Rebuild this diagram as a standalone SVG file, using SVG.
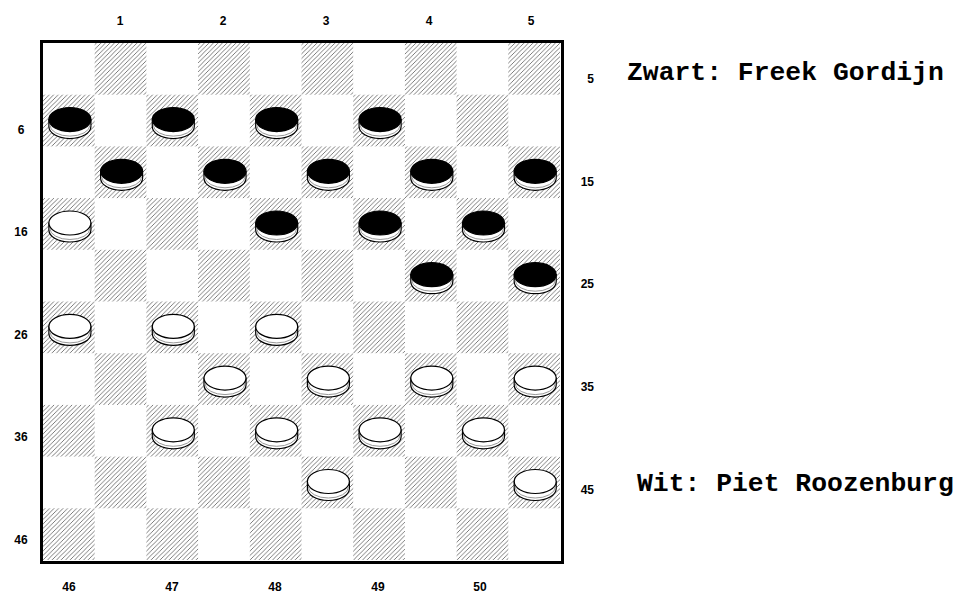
<svg xmlns="http://www.w3.org/2000/svg" width="959" height="594" viewBox="0 0 959 594">
<style>
.lbl{font-family:"Liberation Sans",Arial,sans-serif;font-weight:bold;font-size:12px;fill:#000;text-anchor:middle}
.lblr{font-family:"Liberation Sans",Arial,sans-serif;font-weight:bold;font-size:12px;fill:#000;text-anchor:end}
.name{font-family:"Liberation Mono","Courier New",monospace;font-weight:bold;font-size:26.4px;fill:#000}
.dark{fill:url(#hatch)}
.side{fill:#fff;stroke:#000;stroke-width:1.2}
.shade{fill:none;stroke:#999;stroke-width:1}
.topb{fill:#000;stroke:#000;stroke-width:1.2}
.topw{fill:#fff;stroke:#000;stroke-width:1.2}
</style>
<defs>
<pattern id="hatch" patternUnits="userSpaceOnUse" width="4.5" height="4.5">
<rect width="4.5" height="4.5" fill="#fff"/>
<path d="M-1,1 L1,-1 M0,4.5 L4.5,0 M3.5,5.5 L5.5,3.5" stroke="#6e6e6e" stroke-width="0.9"/>
</pattern>
<g id="pb">
<path class="side" d="M-21,-5 L-21,2 A21,12 0 0 0 21,2 L21,-5 Z"/>
<path class="shade" d="M-20,0.5 A20,11 0 0 0 20,0.5"/>
<ellipse class="topb" cx="0" cy="-5" rx="21" ry="12"/>
</g>
<g id="pw">
<path class="side" d="M-21,-5 L-21,2 A21,12 0 0 0 21,2 L21,-5 Z"/>
<path class="shade" d="M-20,0.5 A20,11 0 0 0 20,0.5"/>
<ellipse class="topw" cx="0" cy="-5" rx="21" ry="12"/>
</g>
</defs>
<rect width="959" height="594" fill="#fff"/>
<g id="board">
<rect x="43" y="43" width="518" height="518" fill="#fff"/>
<g id="squares">
<rect class="dark" x="94.7" y="43" width="51.7" height="51.7"/><rect class="dark" x="198.1" y="43" width="51.7" height="51.7"/><rect class="dark" x="301.5" y="43" width="51.7" height="51.7"/><rect class="dark" x="404.9" y="43" width="51.7" height="51.7"/><rect class="dark" x="508.3" y="43" width="51.7" height="51.7"/>
<rect class="dark" x="43" y="94.7" width="51.7" height="51.7"/><rect class="dark" x="146.4" y="94.7" width="51.7" height="51.7"/><rect class="dark" x="249.8" y="94.7" width="51.7" height="51.7"/><rect class="dark" x="353.2" y="94.7" width="51.7" height="51.7"/><rect class="dark" x="456.6" y="94.7" width="51.7" height="51.7"/>
<rect class="dark" x="94.7" y="146.4" width="51.7" height="51.7"/><rect class="dark" x="198.1" y="146.4" width="51.7" height="51.7"/><rect class="dark" x="301.5" y="146.4" width="51.7" height="51.7"/><rect class="dark" x="404.9" y="146.4" width="51.7" height="51.7"/><rect class="dark" x="508.3" y="146.4" width="51.7" height="51.7"/>
<rect class="dark" x="43" y="198.1" width="51.7" height="51.7"/><rect class="dark" x="146.4" y="198.1" width="51.7" height="51.7"/><rect class="dark" x="249.8" y="198.1" width="51.7" height="51.7"/><rect class="dark" x="353.2" y="198.1" width="51.7" height="51.7"/><rect class="dark" x="456.6" y="198.1" width="51.7" height="51.7"/>
<rect class="dark" x="94.7" y="249.8" width="51.7" height="51.7"/><rect class="dark" x="198.1" y="249.8" width="51.7" height="51.7"/><rect class="dark" x="301.5" y="249.8" width="51.7" height="51.7"/><rect class="dark" x="404.9" y="249.8" width="51.7" height="51.7"/><rect class="dark" x="508.3" y="249.8" width="51.7" height="51.7"/>
<rect class="dark" x="43" y="301.5" width="51.7" height="51.7"/><rect class="dark" x="146.4" y="301.5" width="51.7" height="51.7"/><rect class="dark" x="249.8" y="301.5" width="51.7" height="51.7"/><rect class="dark" x="353.2" y="301.5" width="51.7" height="51.7"/><rect class="dark" x="456.6" y="301.5" width="51.7" height="51.7"/>
<rect class="dark" x="94.7" y="353.2" width="51.7" height="51.7"/><rect class="dark" x="198.1" y="353.2" width="51.7" height="51.7"/><rect class="dark" x="301.5" y="353.2" width="51.7" height="51.7"/><rect class="dark" x="404.9" y="353.2" width="51.7" height="51.7"/><rect class="dark" x="508.3" y="353.2" width="51.7" height="51.7"/>
<rect class="dark" x="43" y="404.9" width="51.7" height="51.7"/><rect class="dark" x="146.4" y="404.9" width="51.7" height="51.7"/><rect class="dark" x="249.8" y="404.9" width="51.7" height="51.7"/><rect class="dark" x="353.2" y="404.9" width="51.7" height="51.7"/><rect class="dark" x="456.6" y="404.9" width="51.7" height="51.7"/>
<rect class="dark" x="94.7" y="456.6" width="51.7" height="51.7"/><rect class="dark" x="198.1" y="456.6" width="51.7" height="51.7"/><rect class="dark" x="301.5" y="456.6" width="51.7" height="51.7"/><rect class="dark" x="404.9" y="456.6" width="51.7" height="51.7"/><rect class="dark" x="508.3" y="456.6" width="51.7" height="51.7"/>
<rect class="dark" x="43" y="508.3" width="51.7" height="51.7"/><rect class="dark" x="146.4" y="508.3" width="51.7" height="51.7"/><rect class="dark" x="249.8" y="508.3" width="51.7" height="51.7"/><rect class="dark" x="353.2" y="508.3" width="51.7" height="51.7"/><rect class="dark" x="456.6" y="508.3" width="51.7" height="51.7"/>
</g>
<rect x="41.5" y="41.5" width="521" height="521" fill="none" stroke="#000" stroke-width="3"/>
</g>
<g id="black-pieces">
<use href="#pb" x="69.9" y="124.6"/><use href="#pb" x="173.3" y="124.6"/><use href="#pb" x="276.7" y="124.6"/><use href="#pb" x="380.1" y="124.6"/>
<use href="#pb" x="121.6" y="176.3"/><use href="#pb" x="225" y="176.3"/><use href="#pb" x="328.4" y="176.3"/><use href="#pb" x="431.8" y="176.3"/><use href="#pb" x="535.2" y="176.3"/>
<use href="#pb" x="276.7" y="228"/><use href="#pb" x="380.1" y="228"/><use href="#pb" x="483.5" y="228"/>
<use href="#pb" x="431.8" y="279.7"/><use href="#pb" x="535.2" y="279.7"/>
</g>
<g id="white-pieces">
<use href="#pw" x="69.9" y="228"/>
<use href="#pw" x="69.9" y="331.4"/><use href="#pw" x="173.3" y="331.4"/><use href="#pw" x="276.7" y="331.4"/>
<use href="#pw" x="225" y="383.1"/><use href="#pw" x="328.4" y="383.1"/><use href="#pw" x="431.8" y="383.1"/><use href="#pw" x="535.2" y="383.1"/>
<use href="#pw" x="173.3" y="434.8"/><use href="#pw" x="276.7" y="434.8"/><use href="#pw" x="380.1" y="434.8"/><use href="#pw" x="483.5" y="434.8"/>
<use href="#pw" x="328.4" y="486.5"/><use href="#pw" x="535.2" y="486.5"/>
</g>
<g id="labels">
<text class="lbl" x="120" y="25">1</text><text class="lbl" x="223" y="25">2</text><text class="lbl" x="326" y="25">3</text><text class="lbl" x="429" y="25">4</text><text class="lbl" x="531" y="25">5</text>
<text class="lbl" x="21" y="134">6</text><text class="lbl" x="21" y="236">16</text><text class="lbl" x="21" y="339">26</text><text class="lbl" x="21" y="441">36</text><text class="lbl" x="21" y="544">46</text>
<text class="lblr" x="594" y="83">5</text><text class="lblr" x="594" y="186">15</text><text class="lblr" x="594" y="288">25</text><text class="lblr" x="594" y="391">35</text><text class="lblr" x="594" y="494">45</text>
<text class="lbl" x="69" y="591">46</text><text class="lbl" x="172" y="591">47</text><text class="lbl" x="275" y="591">48</text><text class="lbl" x="378" y="591">49</text><text class="lbl" x="480" y="591">50</text>
</g>
<g id="players">
<text class="name" x="627" y="80">Zwart: Freek Gordijn</text>
<text class="name" x="637" y="491">Wit: Piet Roozenburg</text>
</g>
</svg>
